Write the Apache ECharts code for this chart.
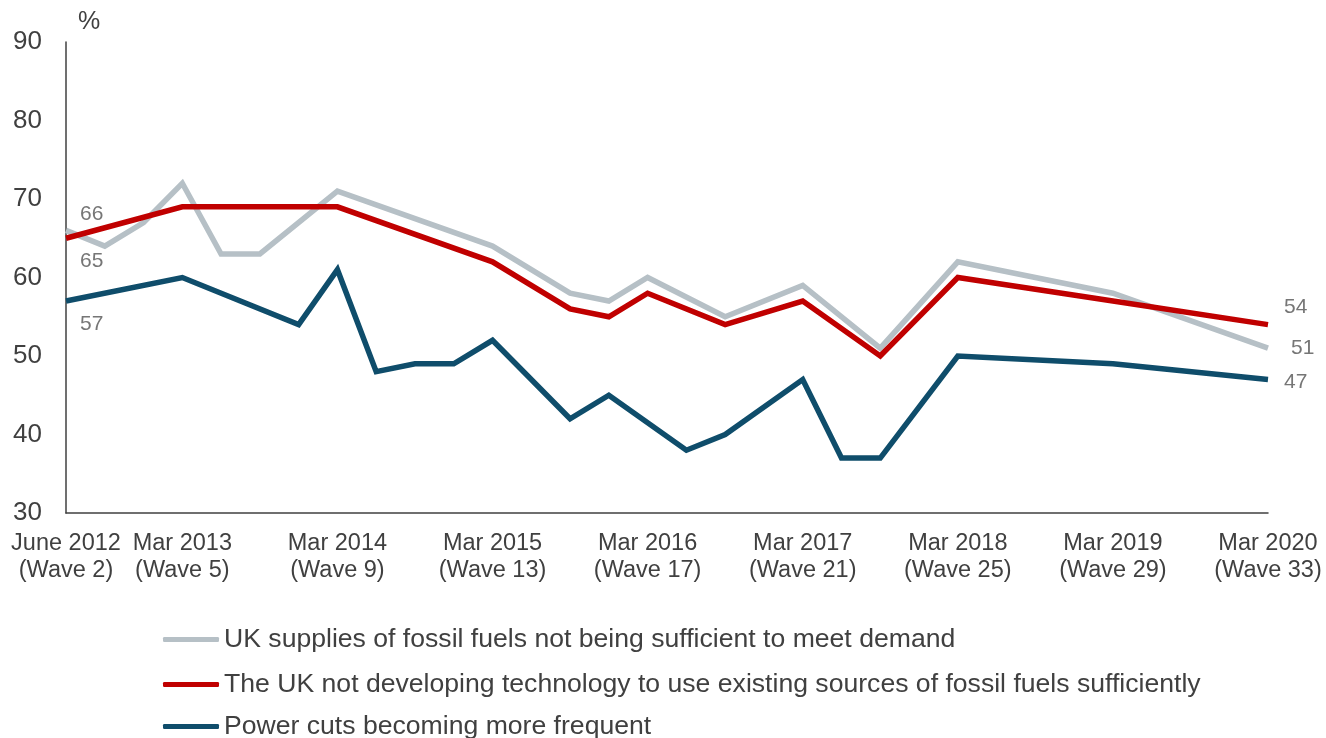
<!DOCTYPE html>
<html>
<head>
<meta charset="utf-8">
<script src="https://cdn.jsdelivr.net/npm/echarts@6/dist/echarts.min.js"></script>
<style>
  html, body { margin: 0; padding: 0; background: #fff; }
  #chart { width: 1326px; height: 738px; }
</style>
</head>
<body>
<div id="chart"></div>
<script>
// Survey waves 2..33; only some waves carry a tick label
const waves = [2,3,4,5,6,7,8,9,10,11,12,13,14,15,16,17,18,19,20,21,22,23,24,25,26,27,28,29,30,31,32,33];
const tickLabels = {
  2: 'June 2012\n(Wave 2)', 5: 'Mar 2013\n(Wave 5)', 9: 'Mar 2014\n(Wave 9)',
  13: 'Mar 2015\n(Wave 13)', 17: 'Mar 2016\n(Wave 17)', 21: 'Mar 2017\n(Wave 21)',
  25: 'Mar 2018\n(Wave 25)', 29: 'Mar 2019\n(Wave 29)', 33: 'Mar 2020\n(Wave 33)'
};

const seriesNames = [
  'UK supplies of fossil fuels not being sufficient to meet demand',
  'The UK not developing technology to use existing sources of fossil fuels sufficiently',
  'Power cuts becoming more frequent'
];

// Percentage concerned, one entry per wave (null = not asked that wave)
const supplies = [66,64,67,72,63,63,null,71,null,null,null,64,null,58,57,60,null,55,null,59,null,51,null,62,null,null,null,58,null,null,null,51];
const technology = [65,null,null,69,null,null,null,69,null,null,null,62,null,56,55,58,null,54,null,57,null,50,null,60,null,null,null,57,null,null,null,54];
const powerCuts = [57,null,null,60,null,null,54,61,48,49,49,52,null,42,45,null,38,40,null,47,37,37,null,50,null,null,null,49,null,null,null,47];

const colors = ['#b6c0c6', '#c00000', '#0f4d6b'];
const labelColor = '#767676';
const textColor = '#404040';
const fontFamily = 'Liberation Sans, Arial, sans-serif';

// Value labels on the first and last point of each line
const labelOffsets = {
  0: { first: [9, -16], last: [18, 0] },
  1: { first: [9, 23], last: [11, -17] },
  2: { first: [9, 23], last: [11, 3] }
};

function withEndLabels(values, idx) {
  const lastIdx = values.length - 1;
  return values.map((v, i) => {
    if (v === null) return null;
    if (i === 0 || i === lastIdx) {
      const off = i === 0 ? labelOffsets[idx].first : labelOffsets[idx].last;
      return {
        value: v,
        label: {
          show: true, position: 'right', offset: off, distance: 5,
          color: labelColor, fontSize: 21, fontFamily: fontFamily,
          formatter: '{c}'
        }
      };
    }
    return v;
  });
}

const chart = echarts.init(document.getElementById('chart'), null, { renderer: 'canvas' });

const allValues = [supplies, technology, powerCuts];

// One legend row per series, stacked under the plot
const legendTops = [626, 671, 713];
const legends = seriesNames.map((name, i) => ({
  orient: 'horizontal', left: 163, top: legendTops[i], padding: 0,
  itemWidth: 56, itemHeight: 5,
  icon: 'roundRect',
  textStyle: { fontSize: 26.6, color: textColor, lineHeight: 24, fontFamily: fontFamily },
  data: [name]
}));

chart.setOption({
  animation: false,
  backgroundColor: '#ffffff',
  textStyle: { fontFamily: fontFamily },
  title: {
    text: '%', left: 78, top: 10, padding: 0,
    textStyle: { fontSize: 25, fontWeight: 'normal', color: textColor, fontFamily: fontFamily }
  },
  grid: { left: 66, right: 58, top: 42, bottom: 225, containLabel: false },
  legend: legends,
  xAxis: {
    type: 'category',
    boundaryGap: false,
    data: waves.map(String),
    axisLine: { show: true, lineStyle: { color: textColor, width: 1.5 } },
    axisTick: { show: false },
    axisLabel: {
      interval: 0, margin: 17, fontSize: 23.5, lineHeight: 27, color: textColor,
      formatter: (v) => tickLabels[+v] || ''
    },
    splitLine: { show: false }
  },
  yAxis: {
    type: 'value', min: 30, max: 90, interval: 10,
    axisLine: { show: true, lineStyle: { color: textColor, width: 1.5 } },
    axisTick: { show: false },
    axisLabel: { fontSize: 26, color: textColor, margin: 24 },
    splitLine: { show: false }
  },
  series: seriesNames.map((name, i) => ({
    name: name,
    type: 'line',
    data: withEndLabels(allValues[i], i),
    connectNulls: true,
    showSymbol: true,
    symbol: 'circle',
    symbolSize: 0,
    color: colors[i],
    itemStyle: { color: colors[i] },
    lineStyle: { color: colors[i], width: 5.5, join: 'miter' },
    z: 2 + i
  }))
});
</script>
</body>
</html>
